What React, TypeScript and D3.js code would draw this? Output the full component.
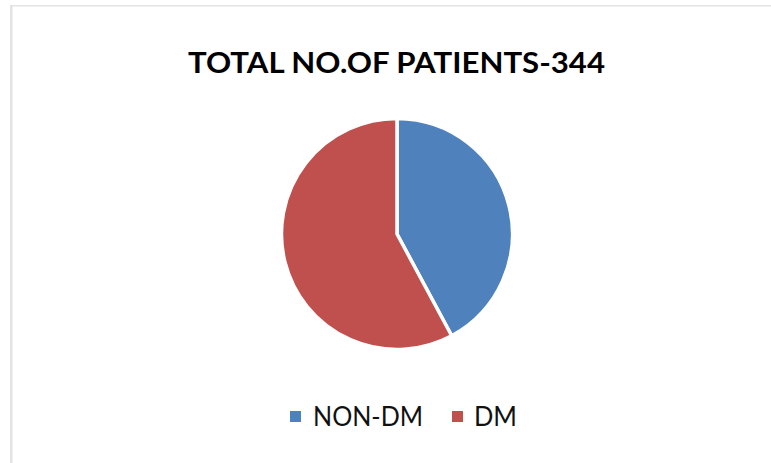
import { useMemo } from 'react';
import * as d3 from 'd3';

const WIDTH = 771;
const HEIGHT = 463;
const TITLE = 'TOTAL NO.OF PATIENTS-344';

const categories = ['NON-DM', 'DM'];
const patients = [145, 199];
const colors = ['#4F81BD', '#C0504D'];

const PIE = { cx: 397, cy: 234, r: 115.5 };
const FONT = 'Lato, "Open Sans", "Liberation Sans", sans-serif';

const App = () => {
    const arcs = useMemo(() => {
        const pieGen = d3
            .pie<number>()
            .sort(null)
            .value((d) => d);
        return pieGen(patients);
    }, []);

    const arcGen = d3.arc<d3.PieArcDatum<number>>().innerRadius(0).outerRadius(PIE.r);

    const color = d3.scaleOrdinal<string, string>().domain(categories).range(colors);

    // legend item positions
    const legendX = d3.scaleOrdinal<string, number>().domain(categories).range([290, 452]);

    return (
        <svg
            width={WIDTH}
            height={HEIGHT}
            style={{ position: 'absolute', left: 0, top: 0, background: '#fff' }}
        >
            <rect x={0} y={0} width={WIDTH} height={HEIGHT} fill="#fff" />
            <line x1={11} y1={5.75} x2={WIDTH} y2={5.75} stroke="#e3e3e3" strokeWidth={1.5} />
            <line x1={11.25} y1={5} x2={11.25} y2={HEIGHT} stroke="#e3e3e3" strokeWidth={2.5} />

            <text
                x={396.5}
                y={72.5}
                textAnchor="middle"
                fontFamily={FONT}
                fontWeight="bold"
                fontSize={28}
                fill="#000"
                textLength={417}
                lengthAdjust="spacingAndGlyphs"
            >
                {TITLE}
            </text>

            <g transform={`translate(${PIE.cx},${PIE.cy})`}>
                {arcs.map((a, i) => (
                    <path
                        key={i}
                        d={arcGen(a) ?? ''}
                        fill={color(categories[i])}
                        stroke="#fff"
                        strokeWidth={3.5}
                        strokeLinejoin="round"
                    />
                ))}
            </g>

            <g>
                {categories.map((c) => (
                    <g key={c} transform={`translate(${legendX(c)},411)`}>
                        <rect x={0} y={0} width={11} height={11} fill={color(c)} />
                        <text
                            x={c === 'DM' ? 22 : 23}
                            y={15}
                            fontFamily={FONT}
                            fontSize={26}
                            fill="#111"
                            textLength={c === 'DM' ? 43 : 110}
                            lengthAdjust="spacingAndGlyphs"
                        >
                            {c}
                        </text>
                    </g>
                ))}
            </g>
        </svg>
    );
};

export default App;
